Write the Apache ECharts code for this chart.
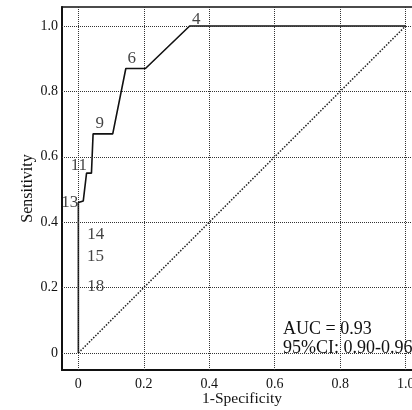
<!DOCTYPE html>
<html><head><meta charset="utf-8">
<script src="https://cdn.jsdelivr.net/npm/echarts@6/dist/echarts.min.js"></script>
<style>html,body{margin:0;padding:0;background:#fff}#c{width:412px;height:410px}</style>
</head><body><div id="c"></div>
<script>
const fprValues = [0, 0, 0.015, 0.025, 0.04, 0.045, 0.105, 0.145, 0.205, 0.34, 1.0];
const tprValues = [0, 0.46, 0.465, 0.55, 0.55, 0.67, 0.67, 0.87, 0.87, 1.0, 1.0];
const refX = [0, 1];
const refY = [0, 1];
const tickValues = [0, 0.2, 0.4, 0.6, 0.8, 1.0];
const pointNames = ['4', '6', '9', '11', '13', '14', '15', '18'];
const pointX = [0.36, 0.163, 0.065, 0.0015, -0.026, 0.053, 0.052, 0.053];
const pointY = [1.02, 0.90, 0.703, 0.572, 0.459, 0.361, 0.294, 0.202];
const aucLines = ['AUC = 0.93', '95%CI: 0.90-0.96'];

const FONT = 'Liberation Serif';
const INK = '#111';
const fmt = v => (v === 0 ? '0' : v.toFixed(1));

const chart = echarts.init(document.getElementById('c'), null, {renderer: 'canvas'});
chart.setOption({
  animation: false,
  backgroundColor: '#fff',
  grid: {left: 62, top: 7, right: -10, bottom: 40, containLabel: false, outerBoundsMode: 'none',
         show: true, borderColor: INK, borderWidth: 1.5, backgroundColor: 'transparent'},
  xAxis: {
    type: 'value', min: -0.05, max: 1.05,
    axisLine: {show: true, onZero: false, lineStyle: {color: INK, width: 2}},
    axisTick: {show: false},
    splitLine: {show: false},
    axisLabel: {customValues: tickValues, formatter: fmt, fontFamily: FONT, fontSize: 14, color: INK, margin: 7},
    name: '1-Specificity', nameLocation: 'middle', nameGap: 21, nameMoveOverlap: false,
    nameTextStyle: {fontFamily: FONT, fontSize: 15.5, color: INK}
  },
  yAxis: {
    type: 'value', min: -0.052, max: 1.058,
    axisLine: {show: true, onZero: false, lineStyle: {color: INK, width: 2}},
    axisTick: {show: false},
    splitLine: {show: false},
    axisLabel: {customValues: tickValues, formatter: fmt, fontFamily: FONT, fontSize: 14, color: INK, margin: 4},
    name: 'Sensitivity', nameLocation: 'middle', nameGap: 26, nameMoveOverlap: false,
    nameTextStyle: {fontFamily: FONT, fontSize: 16, color: INK}
  },
  series: [
    {
      type: 'line', silent: true, symbol: 'none',
      data: refX.map((x, i) => [x, refY[i]]),
      lineStyle: {color: '#222', width: 1.5, type: 'dotted'},
      markLine: {
        silent: true, symbol: 'none', label: {show: false},
        lineStyle: {color: '#333', width: 1, type: 'dotted'},
        data: tickValues.map(v => ({xAxis: v})).concat(tickValues.map(v => ({yAxis: v})))
      },
      z: 2
    },
    {
      type: 'line', silent: true, symbol: 'none',
      data: fprValues.map((x, i) => [x, tprValues[i]]),
      lineStyle: {color: INK, width: 1.6},
      z: 3
    },
    {
      type: 'scatter', silent: true, symbolSize: 0,
      data: pointNames.map((n, i) => ({name: n, value: [pointX[i], pointY[i]]})),
      label: {show: true, position: 'inside', formatter: p => p.name, fontFamily: FONT, fontSize: 17, color: INK},
      z: 4
    }
  ],
  graphic: aucLines.map((t, i) => ({
    type: 'text', left: 283, top: 320 + i * 19,
    style: {text: t, font: '18px "Liberation Serif"', fill: INK}
  }))
});
</script></body></html>
